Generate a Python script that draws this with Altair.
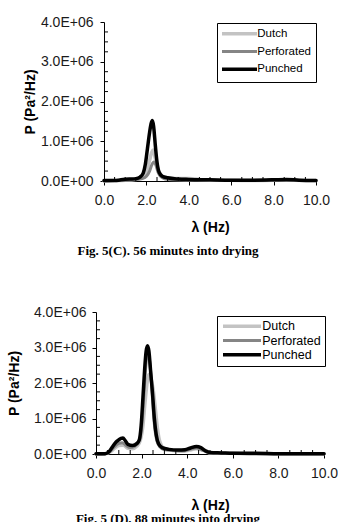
import altair as alt
import pandas as pd

SERIES = ["Dutch", "Perforated", "Punched"]
COLORS = ["#c3c3c3", "#858585", "#000000"]
WIDTHS = [3.5, 3.0, 3.5]

# ---- Fig. 5(C): 56 minutes (P in units of 1E+06 Pa^2/Hz) ----
c_dutch_f = [0, 0.5, 1.0, 1.4, 1.7, 1.9, 2.05, 2.15, 2.25, 2.32, 2.4, 2.5, 2.6, 2.75, 3.0, 3.5, 4.0, 4.5, 5.0, 6.0, 7.0, 8.0, 9.0, 10.0]
c_dutch_p = [0.0, 0.01, 0.02, 0.04, 0.08, 0.16, 0.32, 0.52, 0.72, 0.78, 0.62, 0.38, 0.2, 0.1, 0.07, 0.06, 0.06, 0.04, 0.02, 0.02, 0.01, 0.02, 0.02, 0.01]
c_perf_f = [0, 0.5, 1.0, 1.5, 1.8, 2.0, 2.15, 2.25, 2.35, 2.45, 2.55, 2.7, 2.9, 3.2, 4.0, 5.0, 6.0, 7.0, 8.0, 9.0, 10.0]
c_perf_p = [0.0, 0.01, 0.01, 0.03, 0.06, 0.12, 0.25, 0.4, 0.48, 0.4, 0.22, 0.1, 0.05, 0.03, 0.02, 0.02, 0.01, 0.01, 0.02, 0.01, 0.01]
c_punch_f = [0, 0.5, 0.8, 1.2, 1.5, 1.7, 1.85, 1.95, 2.05, 2.15, 2.22, 2.28, 2.34, 2.42, 2.5, 2.6, 2.75, 3.0, 3.5, 4.0, 5.0, 6.0, 7.0, 8.0, 8.6, 9.2, 10.0]
c_punch_p = [0.01, 0.01, 0.03, 0.05, 0.06, 0.1, 0.2, 0.42, 0.82, 1.22, 1.44, 1.52, 1.38, 0.9, 0.48, 0.22, 0.12, 0.08, 0.05, 0.04, 0.03, 0.02, 0.02, 0.03, 0.04, 0.02, 0.01]

# ---- Fig. 5(D): 88 minutes ----
d_dutch_f = [0, 0.4, 0.6, 0.8, 1.0, 1.2, 1.4, 1.6, 1.8, 1.95, 2.05, 2.15, 2.25, 2.32, 2.4, 2.5, 2.6, 2.7, 2.8, 3.0, 3.4, 3.8, 4.1, 4.4, 4.7, 5.0, 6.0, 7.0, 8.0, 9.0, 10.0]
d_dutch_p = [0.0, 0.01, 0.05, 0.15, 0.24, 0.25, 0.16, 0.15, 0.22, 0.4, 0.75, 1.45, 2.05, 2.25, 2.15, 1.85, 1.3, 0.7, 0.35, 0.15, 0.1, 0.08, 0.11, 0.15, 0.1, 0.03, 0.02, 0.01, 0.01, 0.01, 0.01]
d_perf_f = [0, 0.4, 0.6, 0.8, 1.0, 1.15, 1.3, 1.5, 1.7, 1.9, 2.02, 2.12, 2.2, 2.26, 2.32, 2.4, 2.48, 2.56, 2.66, 2.8, 3.0, 3.4, 3.8, 4.1, 4.4, 4.7, 5.0, 6.0, 7.0, 8.0, 9.0, 10.0]
d_perf_p = [0.0, 0.01, 0.07, 0.2, 0.3, 0.32, 0.25, 0.18, 0.22, 0.38, 0.9, 1.9, 2.6, 2.85, 2.75, 2.3, 1.55, 0.85, 0.4, 0.2, 0.12, 0.1, 0.09, 0.13, 0.17, 0.1, 0.03, 0.02, 0.01, 0.01, 0.01, 0.01]
d_punch_f = [0, 0.4, 0.55, 0.7, 0.88, 1.0, 1.1, 1.18, 1.28, 1.4, 1.6, 1.8, 1.9, 1.98, 2.06, 2.13, 2.2, 2.26, 2.32, 2.4, 2.48, 2.56, 2.64, 2.75, 2.9, 3.2, 3.6, 3.9, 4.15, 4.4, 4.6, 4.8, 5.0, 5.5, 6.0, 7.0, 8.0, 9.0, 10.0]
d_punch_p = [0.01, 0.01, 0.05, 0.18, 0.34, 0.4, 0.44, 0.45, 0.38, 0.27, 0.24, 0.3, 0.4, 0.8, 1.6, 2.35, 2.9, 3.05, 2.9, 2.3, 1.7, 1.0, 0.55, 0.28, 0.18, 0.13, 0.11, 0.12, 0.17, 0.21, 0.18, 0.09, 0.04, 0.03, 0.02, 0.02, 0.01, 0.01, 0.01]

X_MAJOR = [0, 2, 4, 6, 8, 10]
X_MINOR = [0.5, 1, 1.5, 2.5, 3, 3.5, 4.5, 5, 5.5, 6.5, 7, 7.5, 8.5, 9, 9.5]
Y_MAJOR = [0, 1, 2, 3, 4]
Y_MINOR = [0.25, 0.5, 0.75, 1.25, 1.5, 1.75, 2.25, 2.5, 2.75, 3.25, 3.5, 3.75]

CAPTION_C = "Fig. 5(C). 56 minutes into drying"
CAPTION_D = "Fig. 5 (D). 88 minutes into drying"


def make_df(fs, ps):
    rows = []
    for name, f, p in zip(SERIES, fs, ps):
        rows += [{"series": name, "f": a, "p": b} for a, b in zip(f, p)]
    return pd.DataFrame(rows)


def panel(df, w, h, caption, cfg):
    xs = alt.Scale(domain=[0, 10], nice=False, zero=False)
    ys = alt.Scale(domain=[0, 4], nice=False)
    x_axis = alt.Axis(values=X_MAJOR, format=".1f", title="λ (Hz)", labelPadding=8,
                      tickSize=4, titlePadding=cfg["xtp"])
    y_axis = alt.Axis(values=Y_MAJOR,
                      labelExpr="format(datum.value, '.1f') + (datum.value == 0 ? 'E+00' : 'E+06')",
                      title="P (Pa²/Hz)", labelPadding=cfg["ylp"], tickSize=4,
                      titlePadding=cfg["ytp"])
    legend = alt.Legend(
        title=None, orient="none", legendX=cfg["lx"], legendY=cfg["ly"],
        direction="vertical", fillColor="white", strokeColor="black",
        padding=cfg["lpad"], rowPadding=cfg["rp"], cornerRadius=0,
        symbolType=cfg["path"], symbolSize=16, symbolOffset=cfg["so"],
        labelOffset=cfg["lo"], labelFont="Liberation Sans",
        labelFontSize=cfg["lfs"], labelColor="black", labelLimit=200,
    )
    lines = alt.Chart(df).mark_line(
        interpolate="monotone", strokeJoin="round", strokeCap="round"
    ).encode(
        x=alt.X("f:Q", scale=xs, axis=x_axis),
        y=alt.Y("p:Q", scale=ys, axis=y_axis),
        color=alt.Color("series:N", scale=alt.Scale(domain=SERIES, range=COLORS), legend=legend),
        strokeWidth=alt.StrokeWidth("series:N", scale=alt.Scale(type="ordinal", domain=SERIES, range=WIDTHS), legend=legend),
    )
    yminor = alt.Chart(pd.DataFrame({"p": Y_MINOR})).mark_tick(
        orient="horizontal", color="black", thickness=1, size=4, opacity=1
    ).encode(y=alt.Y("p:Q", scale=ys, axis=y_axis), x=alt.value(2))
    xminor = alt.Chart(pd.DataFrame({"f": X_MINOR})).mark_tick(
        orient="vertical", color="black", thickness=1, size=4, opacity=1
    ).encode(x=alt.X("f:Q", scale=xs, axis=x_axis), y=alt.value(h - 2))
    return alt.layer(lines, yminor, xminor).properties(
        width=w, height=h,
        title=alt.TitleParams(
            caption, orient="bottom", anchor="middle", frame="group",
            dx=cfg["cdx"], offset=cfg["coff"], font="Liberation Serif",
            fontSize=13, fontWeight="bold", color="black"),
    )


top = panel(make_df([c_dutch_f, c_perf_f, c_punch_f], [c_dutch_p, c_perf_p, c_punch_p]),
            212, 159, CAPTION_C,
            dict(lx=113, ly=1, lpad=5, rp=3.75, path="M-8.75,0H8.75", so=11.75, lo=12, lfs=11.5,
                 xtp=13, ylp=7, ytp=3, cdx=-42, coff=11))
bottom = panel(make_df([d_dutch_f, d_perf_f, d_punch_f], [d_dutch_p, d_perf_p, d_punch_p]),
               228, 142, CAPTION_D,
               dict(lx=121, ly=4, lpad=4, rp=0.25, path="M-9.5,0H9.5", so=14.75, lo=14, lfs=12.5,
                    xtp=18, ylp=6, ytp=12, cdx=-42, coff=1))

chart = alt.vconcat(top, bottom, spacing=131, bounds="flush", center=True).resolve_scale(
    color="independent", strokeWidth="independent"
).resolve_legend(
    color="independent", strokeWidth="independent"
).properties(
    padding={"left": 7, "top": 15, "right": 0, "bottom": 0}
).configure(background="white").configure_view(
    stroke="transparent", strokeWidth=0
).configure_axis(
    labelFont="Liberation Sans", labelFontSize=14, labelColor="#1a1a1a",
    titleFont="Liberation Sans", titleFontSize=14, titleFontWeight="bold",
    titleColor="black", domainColor="black", domainWidth=1, tickColor="black",
    tickWidth=1, grid=False, labelFlush=False, labelOverlap=False,
)

chart.save("out.html", embed_options={"renderer": "svg", "actions": False})
